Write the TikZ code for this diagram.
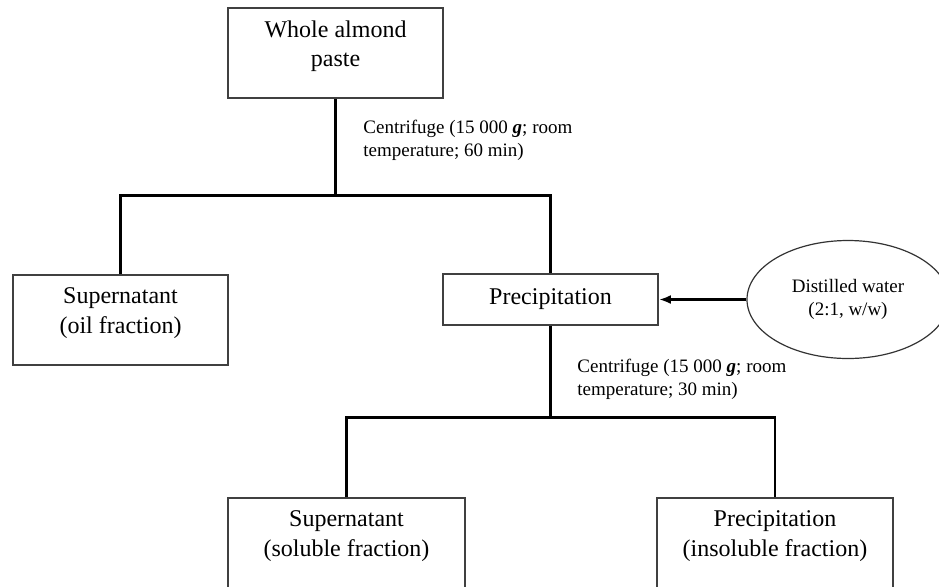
\documentclass[tikz,border=0pt]{standalone}
\usepackage{fontspec}
\setmainfont{Liberation Serif}
\usetikzlibrary{shapes.geometric,arrows.meta}
\newcommand{\lowstrut}{\rule[-9.3pt]{0pt}{9.3pt}}
\begin{document}
\begin{tikzpicture}[x=0.5pt, y=-0.5pt,
  box/.style={draw=black!75, line width=0.9pt, minimum height=45pt, align=center,
    font=\fontsize{12}{14.7}\selectfont},
  conn/.style={line width=1.4pt},
  note/.style={anchor=north west, inner sep=0pt, align=left,
    font=\fontsize{9.5}{11.5}\selectfont}]
  \useasboundingbox (0,0) rectangle (939,586);
  % boxes
  \node[box, minimum width=107.5pt] (paste) at (335.5,53) {Whole almond\\paste\lowstrut};
  \node[box, minimum width=107.8pt] (oil) at (120.5,320) {Supernatant\\(oil fraction)\lowstrut};
  \node[box, minimum width=107.5pt, minimum height=25.5pt] (prec) at (550.5,299.5) {Precipitation};
  \node[box, minimum width=118.5pt] (soluble) at (346.5,543) {Supernatant\\(soluble fraction)\lowstrut};
  \node[box, minimum width=118pt] (insoluble) at (775,543) {Precipitation\\(insoluble fraction)\lowstrut};
  \node[ellipse, draw=black!80, line width=0.6pt, minimum width=101pt, minimum height=59pt,
    align=center, font=\fontsize{9.5}{11.5}\selectfont] (water) at (848,299.5) {Distilled water\\(2:1, w/w)};
  % centrifuge steps
  \coordinate (j1) at (335.5,195.5);
  \coordinate (j2) at (550.5,417.5);
  \draw[conn] (paste) -- (j1);
  \draw[conn] (oil.north) |- (j1) -| (prec.north);
  \draw[conn] (prec) -- (j2);
  \draw[conn] (soluble.north) |- (j2) -| (insoluble.north);
  \draw[conn, -{Latex[length=6pt,width=4.5pt]}] (water) -- (prec);
  \node[note] (spin1) at (363,119.5) {Centrifuge (15 000 \textbf{\textit{g}}; room\\temperature; 60 min)};
  \node[note] (spin2) at (577,359) {Centrifuge (15 000 \textbf{\textit{g}}; room\\temperature; 30 min)};
\end{tikzpicture}
\end{document}
